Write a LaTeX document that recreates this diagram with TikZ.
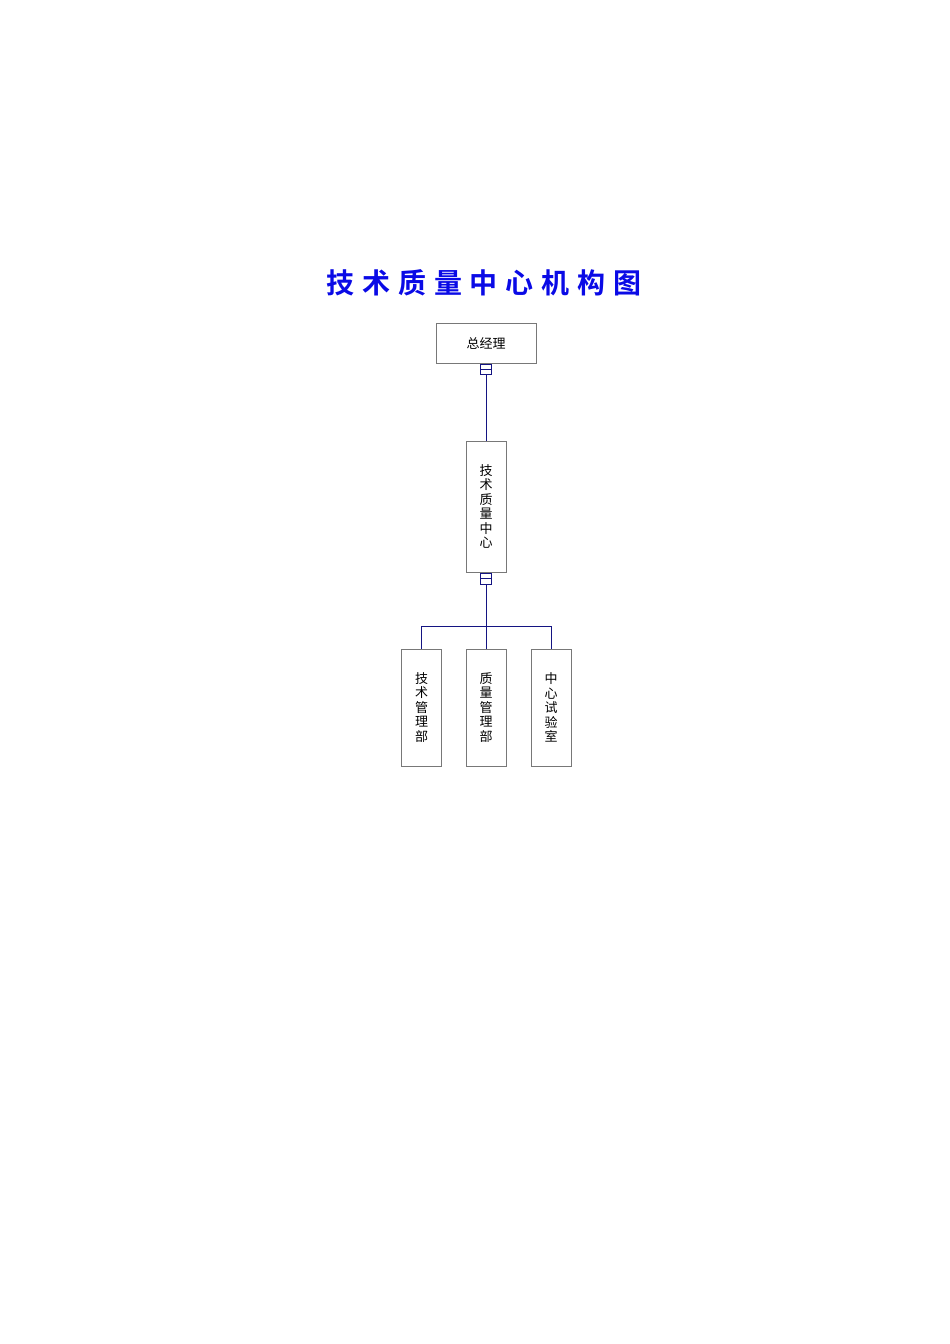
\documentclass[tikz,border=0pt]{standalone}
\usepackage{xcolor}
\usepackage{fontspec}
\usepackage{tikz}
\usetikzlibrary{calc}
\usetikzlibrary{positioning}
\setmainfont{Noto Sans CJK SC}
\newfontfamily\titlefont[LetterSpace=28]{Noto Sans CJK SC Bold}
\definecolor{navy}{RGB}{20,20,130}
\definecolor{framegray}{RGB}{120,120,120}
\definecolor{titleblue}{RGB}{10,10,230}
\tikzset{>=latex}
\tikzstyle{unit} = [draw = framegray, line width = 1pt, inner sep = 0, align = center, font = \fontsize{13}{14.5}\selectfont]
\tikzstyle{fold} = [draw = navy, line width = 1pt, inner sep = 0, minimum width = 11, minimum height = 10]
\tikzstyle{link} = [-, draw = navy, line width = 1pt]

\begin{document}
\begin{tikzpicture}[x = 1pt, y = -1pt]
\useasboundingbox (0, 0) rectangle (950, 1344);
\node [draw=none, inner sep = 0, text = titleblue, font = \titlefont\fontsize{28}{30}\selectfont]  (title) at (484, 283) {技术质量中心机构图};
\node [unit, minimum width = 100, minimum height = 40]  (GM) at (486, 343) {总经理};
\node [unit, minimum width = 40, minimum height = 131]  (TQ) at (486, 506.5) {技\\术\\质\\量\\中\\心};
\node [unit, minimum width = 40, minimum height = 117]  (TD) at (421.5, 707.5) {技\\术\\管\\理\\部};
\node [unit, minimum width = 40, minimum height = 117]  (QD) at (486, 707.5) {质\\量\\管\\理\\部};
\node [unit, minimum width = 40, minimum height = 117]  (Lab) at (551, 707.5) {中\\心\\试\\验\\室};
\node [fold]  (F1) at (486, 369.5) {};
\node [fold, minimum height = 11]  (F2) at (486, 578.5) {};
\coordinate (bus) at (486, 626.5);
\draw [link] (F1.west) to (F1.east);
\draw [link] (F2.west) to (F2.east);
\draw [link] (F1) to (TQ);
\draw [link] (F2) to (bus);
\draw [link] (bus) to (QD);
\draw [link] (TD.north) |- (bus) -| (Lab.north);
\end{tikzpicture}
\end{document}
